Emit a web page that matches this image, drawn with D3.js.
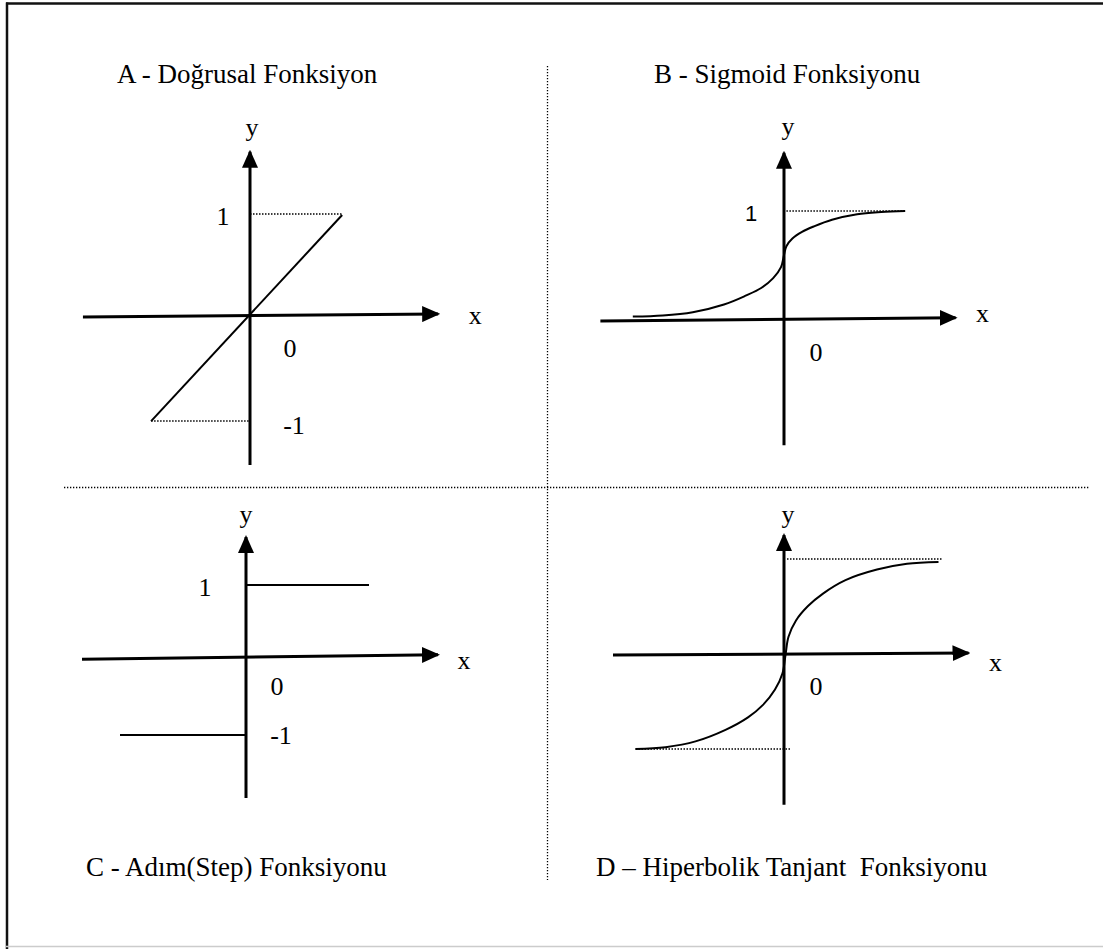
<!DOCTYPE html>
<html>
<head>
<meta charset="utf-8">
<script src="https://cdn.jsdelivr.net/npm/d3@7"></script>
<style>
body{margin:0;background:#fff}
svg text{font-family:"Liberation Serif","Times New Roman",serif;fill:#000}
svg text.sans{font-family:"Liberation Sans",Arial,Roboto,sans-serif}
</style>
</head>
<body>
<div id="chart"></div>
<script>

// titles of the four panels
var titles = ["A - Doğrusal Fonksiyon", "B - Sigmoid Fonksiyonu",
              "C - Adım(Step) Fonksiyonu", "D – Hiperbolik Tanjant  Fonksiyonu"]

// function points [x, y] in axis units
var linearPts  = [[-1.03,-1.03],[0.96,0.99]]
var sigmoidPts = [[-1.26,0.04],[-1.01,0.05],[-0.76,0.08],[-0.50,0.15],[-0.32,0.23],
                  [-0.19,0.30],[-0.09,0.39],[-0.025,0.49],[0,0.60],[0.02,0.68],
                  [0.07,0.75],[0.15,0.81],[0.25,0.86],[0.40,0.92],[0.61,0.97],
                  [0.81,0.99],[1.01,1.0]]
var stepHigh   = [[0,1],[1.23,1]]
var stepLow    = [[-1.26,-1],[0,-1]]
var tanhPts    = [[-0.99,-0.98],[-0.79,-0.96],[-0.59,-0.90],[-0.39,-0.78],[-0.24,-0.65],
                  [-0.14,-0.52],[-0.06,-0.36],[-0.01,-0.19],[0.01,0],[0.03,0.19],
                  [0.08,0.36],[0.16,0.51],[0.26,0.64],[0.41,0.78],[0.62,0.89],
                  [0.82,0.95],[1.03,0.97]]

// guide (dotted) lines, axis units
var guidesA = [[[0,1],[0.96,1]], [[-1.03,-1.03],[0,-1.03]]]
var guidesB = [[[0.02,1],[1.0,1]]]
var guidesD = [[[0.02,1],[1.05,1]], [[-0.99,-0.98],[0.04,-0.98]]]

// tick labels on the y axis
var ticksA = [1, -1]
var ticksB = [1]
var ticksC = [1, -1]
var ticksD = []

var w = 1103, h = 949

// layout of each panel (pixels)
var panels = [
  {title:titles[0], tx:117, ty:83,  ox:250, oy:316, ux:96,  uy:102,
   xAxis:[[-1.74,-0.01],[1.96,0.02]], yAxis:[-1.46,1.61],
   lines:[linearPts], solid:[], guides:guidesA, ticks:ticksA,
   tickOff:[[-27,2],[44,7]], zeroOff:[40,32], yOff:[2,-22], xOff:[37,4]},
  {title:titles[1], tx:654, ty:83,  ox:784, oy:321, ux:120, uy:110,
   xAxis:[[-1.53,0],[1.43,0.03]], yAxis:[-1.13,1.53],
   lines:[sigmoidPts], solid:[], guides:guidesB, ticks:ticksB, sans:true,
   tickOff:[[-33,3]], zeroOff:[32,31], yOff:[4,-23], xOff:[27,-1]},
  {title:titles[2], tx:86,  ty:876, ox:246, oy:660, ux:100, uy:75,
   xAxis:[[-1.64,0.01],[1.92,0.07]], yAxis:[-1.84,1.64],
   lines:[], solid:[stepHigh, stepLow], guides:[], ticks:ticksC,
   tickOff:[[-41,2],[35,0]], zeroOff:[31,26], yOff:[0,-20], xOff:[26,9]},
  {title:titles[3], tx:596, ty:876, ox:784, oy:655, ux:150, uy:96,
   xAxis:[[-1.14,0],[1.23,0.02]], yAxis:[-1.56,1.25],
   lines:[tanhPts], solid:[], guides:guidesD, ticks:ticksD,
   tickOff:[], zeroOff:[32,31], yOff:[4,-18], xOff:[27,12]}
]

var svg = d3.select("#chart").append("svg").attr("width",w).attr("height",h)

// arrow head for the axes
svg.append("defs").append("marker")
    .attr("id","arrow")
    .attr("markerUnits","userSpaceOnUse")
    .attr("markerWidth",18).attr("markerHeight",16)
    .attr("viewBox","0 0 18 16")
    .attr("refX",16).attr("refY",8)
    .attr("orient","auto")
  .append("path")
    .attr("d","M0,0 L18,8 L0,16 Z")
    .attr("fill","#000")

// page frame (top + left dark, bottom light)
svg.append("line").attr("x1",6).attr("x2",w).attr("y1",3.5).attr("y2",3.5)
    .attr("stroke","#111").attr("stroke-width",2.5)
svg.append("line").attr("x1",7).attr("x2",7).attr("y1",2.5).attr("y2",h)
    .attr("stroke","#111").attr("stroke-width",2.5)
svg.append("line").attr("x1",6).attr("x2",w).attr("y1",946.5).attr("y2",946.5)
    .attr("stroke","#ccc").attr("stroke-width",1.5)

// dotted dividers
svg.append("line").attr("x1",547.5).attr("x2",547.5).attr("y1",66).attr("y2",880)
    .attr("stroke","#000").attr("stroke-width",1.3).attr("stroke-dasharray","1.3,1.7")
svg.append("line").attr("x1",64).attr("x2",1090).attr("y1",487.5).attr("y2",487.5)
    .attr("stroke","#000").attr("stroke-width",1.3).attr("stroke-dasharray","1.3,1.7")

panels.forEach(function(p){

    var xScale = d3.scaleLinear().domain([-1,1]).range([p.ox-p.ux, p.ox+p.ux])
    var yScale = d3.scaleLinear().domain([-1,1]).range([p.oy+p.uy, p.oy-p.uy])

    var line = d3.line()
        .x(function(d){ return xScale(d[0]) })
        .y(function(d){ return yScale(d[1]) })
    var smooth = d3.line()
        .x(function(d){ return xScale(d[0]) })
        .y(function(d){ return yScale(d[1]) })
        .curve(d3.curveCatmullRom.alpha(0.5))

    var g = svg.append("g")

    g.append("text")
        .attr("x",p.tx).attr("y",p.ty)
        .style("font-size","27px")
        .style("white-space","pre")
        .text(p.title)

    // dotted guides
    g.selectAll(".guide")
        .data(p.guides)
        .enter()
        .append("path")
        .attr("class","guide")
        .attr("d",line)
        .attr("fill","none")
        .attr("stroke","#000")
        .attr("stroke-width",1.5)
        .attr("stroke-dasharray","1.5,1.5")

    // axes
    g.append("path")
        .attr("d",line(p.xAxis))
        .attr("stroke","#000").attr("stroke-width",3).attr("fill","none")
        .attr("marker-end","url(#arrow)")
    g.append("path")
        .attr("d",line([[0,p.yAxis[0]],[0,p.yAxis[1]]]))
        .attr("stroke","#000").attr("stroke-width",3).attr("fill","none")
        .attr("marker-end","url(#arrow)")

    // function curves
    g.selectAll(".curve")
        .data(p.lines)
        .enter()
        .append("path")
        .attr("class","curve")
        .attr("d",smooth)
        .attr("fill","none")
        .attr("stroke","#000")
        .attr("stroke-width",2)
    g.selectAll(".step")
        .data(p.solid)
        .enter()
        .append("path")
        .attr("class","step")
        .attr("d",line)
        .attr("fill","none")
        .attr("stroke","#000")
        .attr("stroke-width",2)

    // tick labels
    g.selectAll(".tick")
        .data(p.ticks)
        .enter()
        .append("text")
        .attr("class",p.sans ? "tick sans" : "tick")
        .attr("text-anchor","middle")
        .attr("x",function(d,i){ return xScale(0)+p.tickOff[i][0] })
        .attr("y",function(d,i){ return yScale(d)+p.tickOff[i][1] })
        .attr("dy","0.34em")
        .style("font-size",p.sans ? "22px" : "26px")
        .text(function(d){ return d })

    g.append("text")
        .attr("text-anchor","middle")
        .attr("x",xScale(0)+p.zeroOff[0])
        .attr("y",yScale(0)+p.zeroOff[1])
        .attr("dy","0.34em")
        .style("font-size","26px")
        .text("0")

    g.append("text")
        .attr("text-anchor","middle")
        .attr("x",xScale(0)+p.yOff[0])
        .attr("y",yScale(p.yAxis[1])+p.yOff[1])
        .attr("dy","0.22em")
        .style("font-size","26px")
        .text("y")

    g.append("text")
        .attr("text-anchor","middle")
        .attr("x",xScale(p.xAxis[1][0])+p.xOff[0])
        .attr("y",yScale(p.xAxis[1][1])+p.xOff[1])
        .attr("dy","0.22em")
        .style("font-size","26px")
        .text("x")
})

</script>
</body>
</html>
